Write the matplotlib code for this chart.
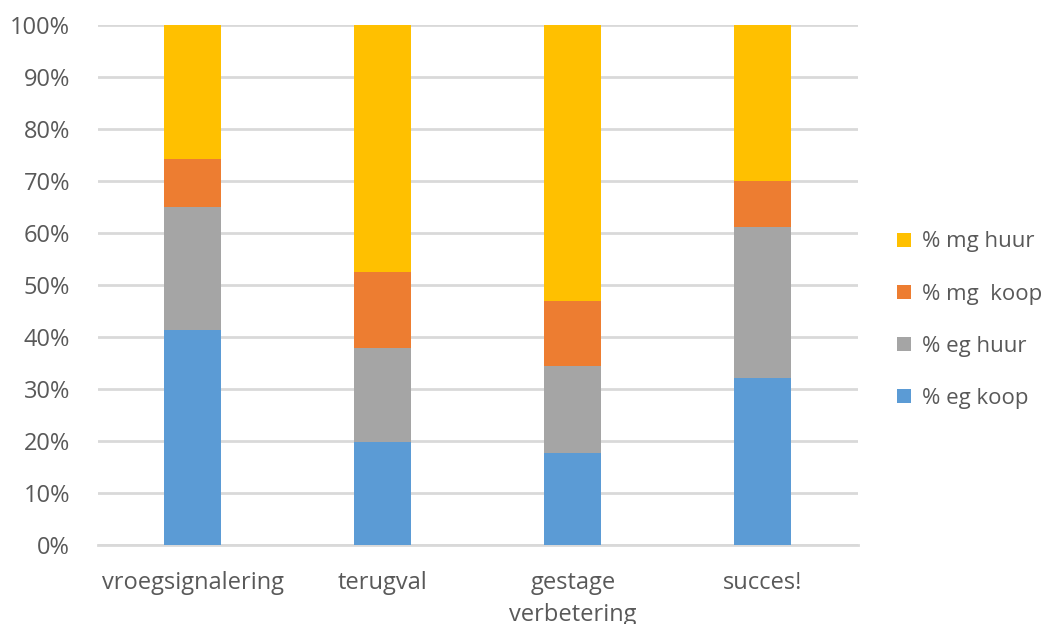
import matplotlib.pyplot as plt
import numpy as np

plt.rcParams['font.family'] = ['Open Sans', 'DejaVu Sans']

categories = ['vroegsignalering', 'terugval', 'gestage\nverbetering', 'succes!']
series_names = ['% eg koop', '% eg huur', '% mg  koop', '% mg huur']
eg_koop = [41.4, 19.8, 17.6, 32.2]
eg_huur = [23.6, 18.0, 16.9, 29.0]
mg_koop = [9.3, 14.6, 12.4, 8.7]
mg_huur = [25.7, 47.6, 53.1, 30.1]
colors = ['#5b9bd5', '#a5a5a5', '#ed7d31', '#ffc000']

fig = plt.figure(figsize=(10.57, 6.24), dpi=100)
ax = fig.add_axes([0.0927, 0.1266, 0.719, 0.8334])

x = np.arange(len(categories))
bottom = np.zeros(len(categories))
handles = []
for name, vals, c in zip(series_names, [eg_koop, eg_huur, mg_koop, mg_huur], colors):
    vals = np.array(vals)
    h = ax.bar(x, vals, 0.3, bottom=bottom, color=c, label=name, zorder=3)
    handles.append(h)
    bottom += vals

ax.set_xlim(-0.5, 3.5)
ax.set_ylim(0, 100)
ax.set_yticks(np.arange(0, 101, 10))
ax.set_yticklabels([f'{v}%' for v in range(0, 101, 10)])
ax.set_xticks(x)
ax.set_xticklabels(categories, linespacing=1.4)
ax.yaxis.grid(True, color='#d9d9d9', linewidth=2, zorder=0)
for s in ['top', 'right', 'left']:
    ax.spines[s].set_visible(False)
ax.spines['bottom'].set_color('#d9d9d9')
ax.spines['bottom'].set_linewidth(2)
ax.tick_params(axis='both', length=0, labelsize=17, colors='#595959')
ax.tick_params(axis='x', pad=19)
ax.tick_params(axis='y', pad=20)

leg = fig.legend(handles[::-1], series_names[::-1], loc='center left',
                 bbox_to_anchor=(0.83, 0.487), frameon=False, fontsize=16,
                 handlelength=0.6, handleheight=0.6, handletextpad=0.5,
                 labelspacing=1.4, labelcolor='#595959')

fig.savefig('out.png', dpi=100)
